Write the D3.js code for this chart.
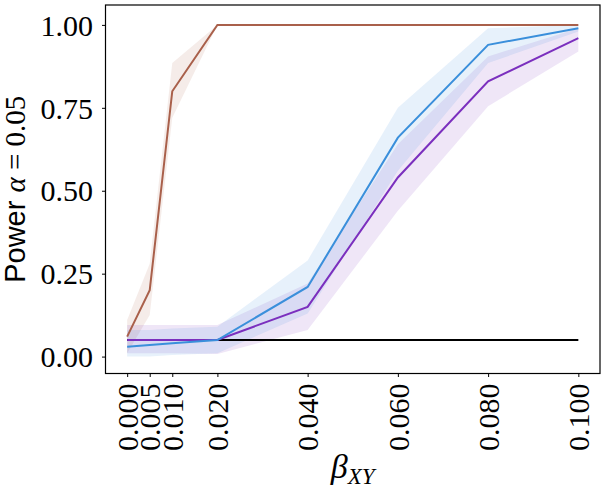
<!DOCTYPE html>
<html>
<head>
<meta charset="utf-8">
<script src="https://cdn.jsdelivr.net/npm/d3@7"></script>
<style>
    body { margin: 0; background: #fff; }
    svg { display: block; }
</style>
</head>
<body>
<svg width="605" height="494"></svg>
<script>
var betas      = [ 0, 0.005, 0.01, 0.02, 0.04, 0.06, 0.08, 0.1 ],
    xTicks     = [ 0, 0.005, 0.01, 0.02, 0.04, 0.06, 0.08, 0.1 ],
    yTicks     = [ 0, 0.25, 0.5, 0.75, 1 ],
    alphaLevel = 0.05,

    // brown series
    brownMean  = [ 0.06, 0.20, 0.80, 1.00, 1.00, 1.00, 1.00, 1.00 ],
    brownLow   = [ 0.01, 0.125, 0.72, 1.00, 1.00, 1.00, 1.00, 1.00 ],
    brownHigh  = [ 0.11, 0.28, 0.885, 1.00, 1.00, 1.00, 1.00, 1.00 ],

    // purple series
    purpleMean = [ 0.05, 0.05, 0.05, 0.05, 0.15, 0.54, 0.83, 0.96 ],
    purpleLow  = [ 0.01, 0.01, 0.01, 0.008, 0.08, 0.44, 0.755, 0.92 ],
    purpleHigh = [ 0.095, 0.095, 0.095, 0.095, 0.22, 0.64, 0.905, 0.99 ],

    // blue series
    blueMean   = [ 0.03, 0.035, 0.04, 0.05, 0.21, 0.66, 0.94, 0.99 ],
    blueLow    = [ 0.0, 0.0, 0.005, 0.01, 0.13, 0.56, 0.885, 0.98 ],
    blueHigh   = [ 0.08, 0.08, 0.085, 0.09, 0.29, 0.75, 0.99, 1.00 ];

var series = [
        { mean: brownMean,  low: brownLow,  high: brownHigh,  color: '#a9604b' },
        { mean: purpleMean, low: purpleLow, high: purpleHigh, color: '#7b2fbe' },
        { mean: blueMean,   low: blueLow,   high: blueHigh,   color: '#3a8fdb' }
    ];

var serif  = "'Liberation Serif', 'DejaVu Serif', serif",
    sans   = "'Liberation Sans', Arial, sans-serif",
    svg    = d3.select( 'svg' ),
    plotL  = 105.5,
    plotR  = 600,
    plotT  = 5,
    plotB  = 373.5,

    x = d3.scaleLinear().domain( [ -0.0048, 0.1048 ] ).range( [ plotL, plotR ] ),
    y = d3.scaleLinear().domain( [ -0.051, 1.06 ] ).range( [ plotB, plotT ] );

function rows( s ) {
    return betas.map( function ( b, i ) {
        return { b: b, m: s.mean[ i ], lo: s.low[ i ], hi: s.high[ i ] };
    } );
}

var area = d3.area()
        .x( function ( d ) { return x( d.b ); } )
        .y0( function ( d ) { return y( d.lo ); } )
        .y1( function ( d ) { return y( d.hi ); } ),
    line = d3.line()
        .x( function ( d ) { return x( d.b ); } )
        .y( function ( d ) { return y( d.m ); } );

// confidence bands
series.forEach( function ( s ) {
    svg.append( 'path' )
        .datum( rows( s ) )
        .attr( 'd', area )
        .attr( 'fill', s.color )
        .attr( 'fill-opacity', 0.12 )
        .attr( 'stroke', 'none' );
} );

// nominal level
svg.append( 'line' )
    .attr( 'x1', x( betas[ 0 ] ) )
    .attr( 'x2', x( betas[ betas.length - 1 ] ) )
    .attr( 'y1', y( alphaLevel ) )
    .attr( 'y2', y( alphaLevel ) )
    .attr( 'stroke', '#000' )
    .attr( 'stroke-width', 2.2 );

series.forEach( function ( s ) {
    svg.append( 'path' )
        .datum( rows( s ) )
        .attr( 'd', line )
        .attr( 'fill', 'none' )
        .attr( 'stroke', s.color )
        .attr( 'stroke-width', 2 );
} );

// axes
var gx = svg.append( 'g' )
    .attr( 'transform', 'translate(0,' + plotB + ')' )
    .call( d3.axisBottom( x ).tickValues( xTicks ).tickFormat( d3.format( '.3f' ) ).tickSize( 3.5 ).tickPadding( 0 ) );
gx.attr( 'font-family', serif ).attr( 'font-size', 30 );
gx.select( '.domain' ).remove();
gx.selectAll( '.tick line' ).attr( 'stroke', '#000' ).attr( 'stroke-width', 1 );
gx.selectAll( '.tick text' )
    .attr( 'fill', '#000' )
    .attr( 'transform', 'rotate(-90)' )
    .attr( 'text-anchor', 'end' )
    .attr( 'x', -10 )
    .attr( 'y', 0 )
    .attr( 'dy', '0.34em' );

var gy = svg.append( 'g' )
    .attr( 'transform', 'translate(' + plotL + ',0)' )
    .call( d3.axisLeft( y ).tickValues( yTicks ).tickFormat( d3.format( '.2f' ) ).tickSize( 3.5 ).tickPadding( 9 ) );
gy.attr( 'font-family', serif ).attr( 'font-size', 30 );
gy.select( '.domain' ).remove();
gy.selectAll( '.tick line' ).attr( 'stroke', '#000' ).attr( 'stroke-width', 1 );
gy.selectAll( '.tick text' ).attr( 'fill', '#000' ).attr( 'dy', '0.34em' );

svg.append( 'rect' )
    .attr( 'x', plotL )
    .attr( 'y', plotT )
    .attr( 'width', plotR - plotL )
    .attr( 'height', plotB - plotT )
    .attr( 'fill', 'none' )
    .attr( 'stroke', '#000' )
    .attr( 'stroke-width', 1.2 );

// axis labels
var xl = svg.append( 'text' )
    .attr( 'x', ( plotL + plotR ) / 2 )
    .attr( 'y', 478 )
    .attr( 'text-anchor', 'middle' )
    .attr( 'font-family', serif )
    .attr( 'font-style', 'italic' );
xl.append( 'tspan' ).attr( 'font-size', 34 ).text( 'β' );
xl.append( 'tspan' ).attr( 'font-size', 23 ).attr( 'dy', 6 ).text( 'XY' );

var yl = svg.append( 'text' )
    .attr( 'transform', 'translate(25,' + ( plotT + plotB ) / 2 + ') rotate(-90)' )
    .attr( 'text-anchor', 'middle' )
    .attr( 'font-size', 29 );
yl.append( 'tspan' ).attr( 'font-family', sans ).text( 'Power ' );
yl.append( 'tspan' ).attr( 'font-family', serif ).attr( 'font-style', 'italic' ).text( 'α' );
yl.append( 'tspan' ).attr( 'font-family', serif ).text( ' = 0.05' );
</script>
</body>
</html>
